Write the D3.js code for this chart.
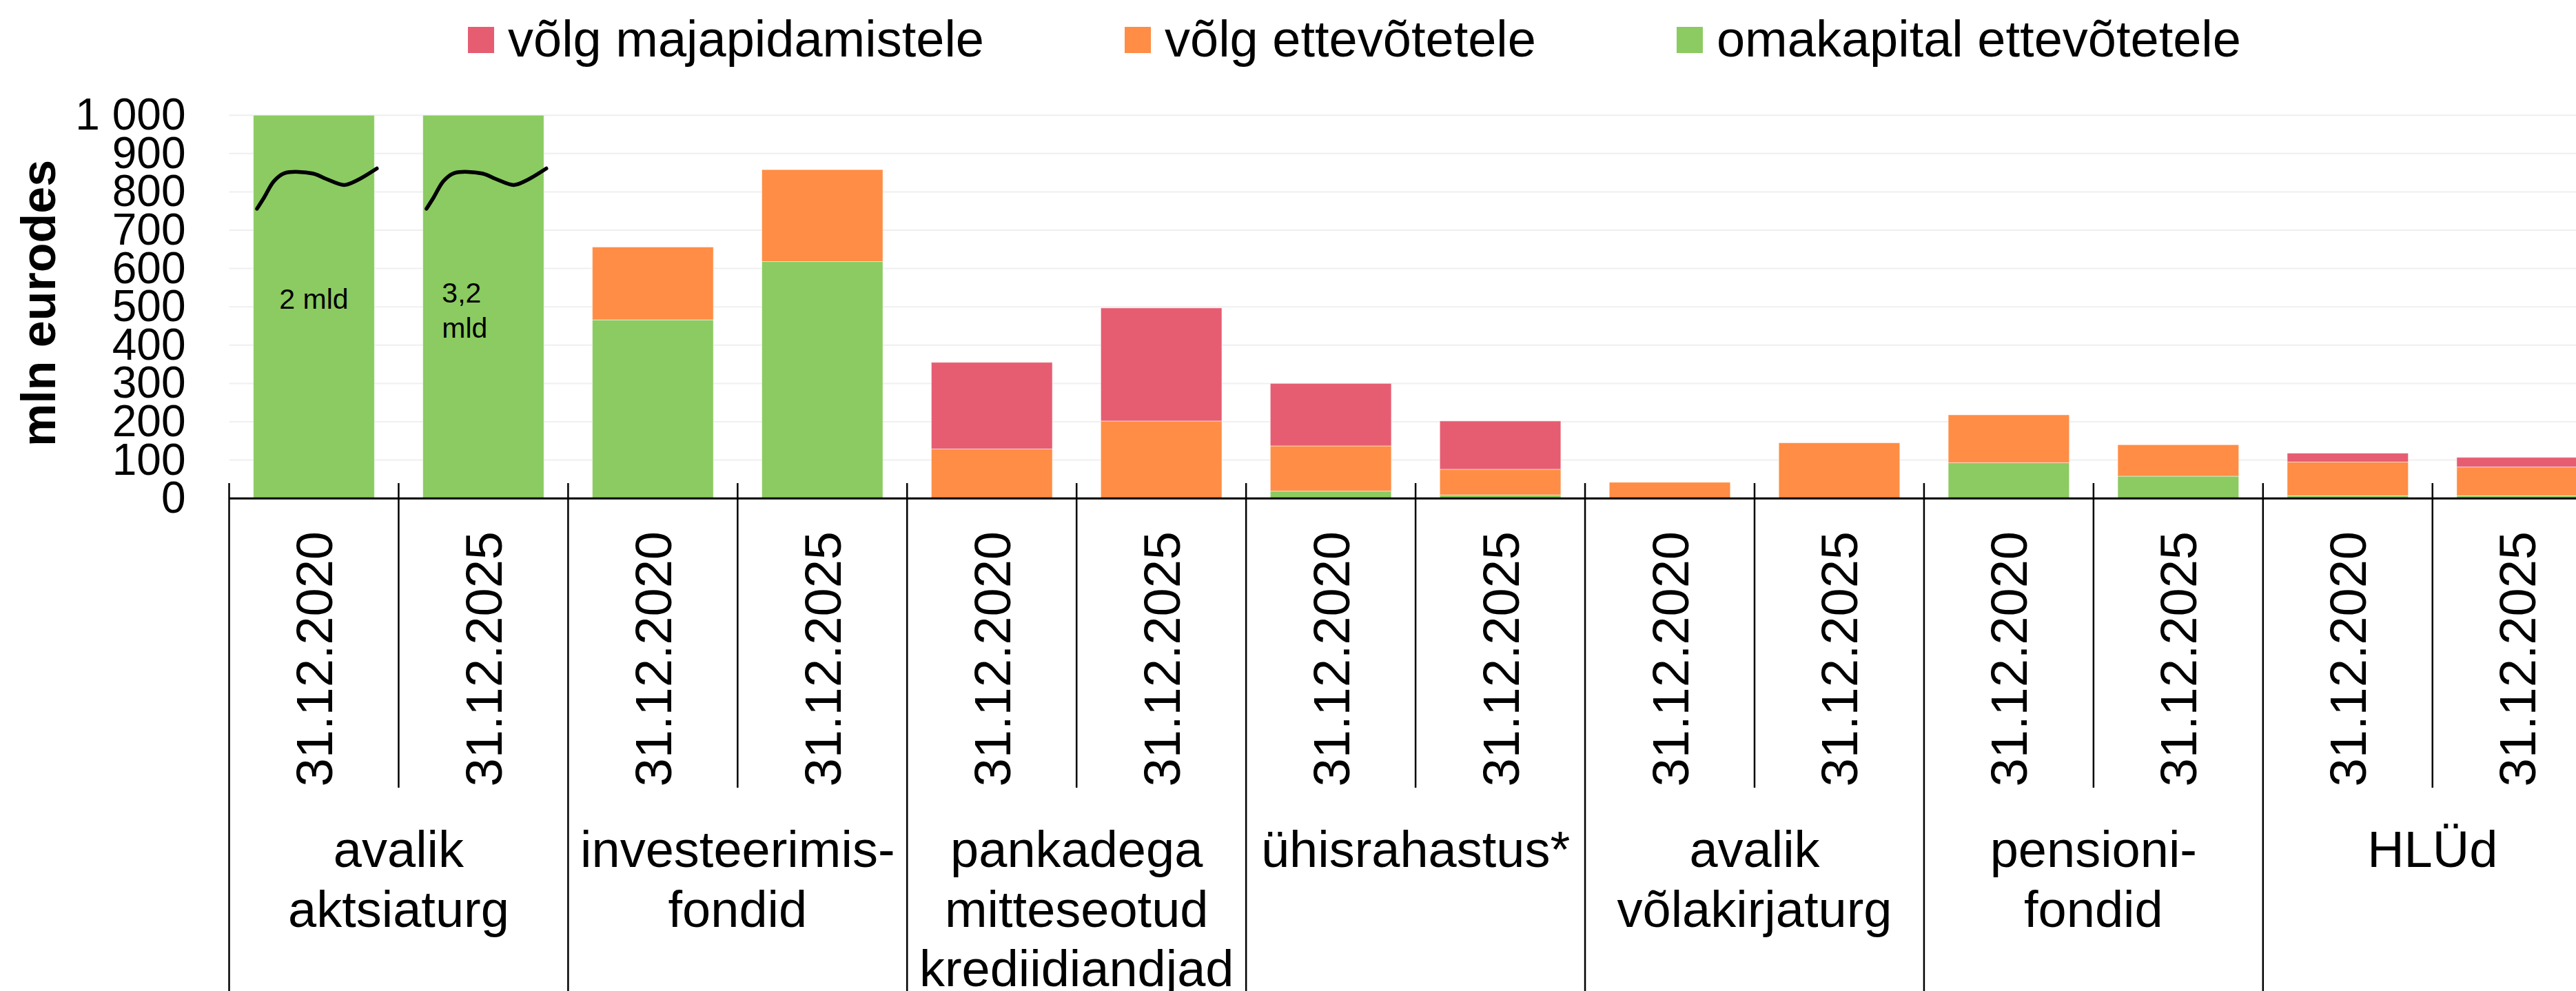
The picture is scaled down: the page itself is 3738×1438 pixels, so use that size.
<!DOCTYPE html>
<html>
<head>
<meta charset="utf-8">
<script src="https://cdn.jsdelivr.net/npm/d3@7"></script>
<style>
  body { margin: 0; background: #fff; }
  svg { display: block; font-family: "Liberation Sans", Arial, sans-serif; }
</style>
</head>
<body>
<svg id="chartSvg" width="3738" height="1438"></svg>
<script>
// data (mln eurodes)
const groupLabels = [
  ["avalik", "aktsiaturg"],
  ["investeerimis-", "fondid"],
  ["pankadega", "mitteseotud", "krediidiandjad"],
  ["ühisrahastus*"],
  ["avalik", "võlakirjaturg"],
  ["pensioni-", "fondid"],
  ["HLÜd"]
];
const dates = ["31.12.2020", "31.12.2025"];

const omakapital      = [2000, 3200, 466, 618,   0,   0,  19,   9,  0,   0,  93, 58,  7,  7];
const volgEttevotetele = [   0,    0, 190, 240, 129, 202, 118,  67, 42, 145, 125, 82, 88, 75];
const volgMajapid     = [   0,    0,   0,   0, 226, 295, 163, 126,  0,   0,   0,  0, 23, 25];

const seriesNames = ["võlg majapidamistele", "võlg ettevõtetele", "omakapital ettevõtetele"];
const yTicks = [0, 100, 200, 300, 400, 500, 600, 700, 800, 900, 1000];

// labels for the cut-off bars
const bigLabels = [["2 mld"], ["3,2", "mld"]];

const colors = {
  majapidamistele: "#e65d72",
  ettevotetele: "#ff8d45",
  omakapital: "#8bcb61"
};

function drawChart() {
  const svg = d3.select("#chartSvg");
  const width = 3738, height = 1438;
  const left = 332.5, right = 3775.7;
  const yTop = 167.2, yBase = 723.2;

  const rows = omakapital.map((d, i) => ({
    i: i,
    omakapital: d,
    ettevotetele: volgEttevotetele[i],
    majapidamistele: volgMajapid[i]
  }));

  const xScale = d3.scaleBand()
    .domain(d3.range(rows.length))
    .range([left, right])
    .paddingInner(0.286)
    .paddingOuter(0.143);

  const yScale = d3.scaleLinear()
    .domain([0, 1000])
    .range([yBase, yTop])
    .clamp(true);

  // gridlines
  svg.append("g")
    .selectAll("line")
    .data(yTicks.filter(d => d > 0))
    .enter()
    .append("line")
    .attr("x1", left)
    .attr("x2", width)
    .attr("y1", d => yScale(d))
    .attr("y2", d => yScale(d))
    .style("stroke", "#efefef")
    .style("stroke-width", 2);

  // y axis labels
  const yAxis = svg.append("g")
    .attr("transform", `translate(${left}, 0)`)
    .call(d3.axisLeft(yScale)
      .tickValues(yTicks)
      .tickSize(0)
      .tickPadding(63)
      .tickFormat(d => d3.format(",")(d).replace(",", " ")));
  yAxis.select(".domain").remove();
  yAxis.selectAll("text")
    .attr("font-family", "Liberation Sans, Arial, sans-serif")
    .attr("font-size", 64)
    .attr("fill", "#000");

  // y title
  svg.append("text")
    .attr("transform", `translate(80, 440) rotate(-90)`)
    .attr("text-anchor", "middle")
    .attr("font-size", 70)
    .attr("font-weight", "bold")
    .text("mln eurodes");

  // stacked bars
  const stack = d3.stack().keys(["omakapital", "ettevotetele", "majapidamistele"]);
  const stacked = stack(rows);

  svg.append("g")
    .selectAll("g")
    .data(stacked)
    .enter()
    .append("g")
    .style("fill", d => colors[d.key])
    .selectAll("rect")
    .data(d => d.filter(p => p[1] > p[0]))
    .enter()
    .append("rect")
    .attr("x", d => xScale(d.data.i))
    .attr("width", xScale.bandwidth())
    .attr("y", d => yScale(d[1]))
    .attr("height", d => yScale(d[0]) - yScale(d[1]))
    .style("stroke", "#fff")
    .style("stroke-width", 1)
    .style("stroke-opacity", 0.5);

  // break marks on the two cut bars
  const wave = [[0.03, 756], [0.09, 786], [0.17, 828], [0.26, 849], [0.49, 848],
                [0.6, 834], [0.75, 818], [0.85, 829], [1.02, 861]];
  const bw = xScale.bandwidth();
  [0, 1].forEach(i => {
    const line = d3.line()
      .x(p => xScale(i) + p[0] * bw)
      .y(p => yScale(p[1]))
      .curve(d3.curveCatmullRom);
    svg.append("path")
      .attr("d", line(wave))
      .style("fill", "none")
      .style("stroke", "#000")
      .style("stroke-width", 5.5)
      .style("stroke-linecap", "round");
  });

  // labels on the cut bars
  svg.append("text")
    .attr("x", xScale(0) + bw / 2)
    .attr("y", yScale(495))
    .attr("text-anchor", "middle")
    .attr("font-size", 41)
    .text(bigLabels[0][0]);
  const t2 = svg.append("text")
    .attr("x", xScale(1) + 0.158 * bw)
    .attr("y", yScale(511))
    .attr("font-size", 41);
  bigLabels[1].forEach((s, k) => {
    t2.append("tspan")
      .attr("x", xScale(1) + 0.158 * bw)
      .attr("dy", k === 0 ? 0 : 51)
      .text(s);
  });

  // x axis line and ticks
  svg.append("line")
    .attr("x1", left)
    .attr("x2", width)
    .attr("y1", yBase)
    .attr("y2", yBase)
    .style("stroke", "#000")
    .style("stroke-width", 3);

  const bounds = d3.range(rows.length + 1).map(k => left + k * xScale.step());
  svg.append("g")
    .selectAll("line")
    .data(bounds)
    .enter()
    .append("line")
    .attr("x1", d => d)
    .attr("x2", d => d)
    .attr("y1", 701)
    .attr("y2", (d, k) => k % 2 === 0 ? height : 1143)
    .style("stroke", "#000")
    .style("stroke-width", 2.5);

  // date labels
  const fs = 74;
  svg.append("g")
    .selectAll("text")
    .data(rows)
    .enter()
    .append("text")
    .attr("transform", d => `translate(${xScale(d.i) + bw / 2 + 0.358 * fs}, 771) rotate(-90)`)
    .attr("text-anchor", "end")
    .attr("font-size", fs)
    .text(d => dates[d.i % 2]);

  // group labels
  groupLabels.forEach((lines, g) => {
    const cx = (bounds[g * 2] + bounds[g * 2 + 2]) / 2;
    const t = svg.append("text")
      .attr("text-anchor", "middle")
      .attr("font-size", fs);
    lines.forEach((s, k) => {
      t.append("tspan")
        .attr("x", cx)
        .attr("y", 1258 + k * 86.5)
        .text(s);
    });
  });

  // legend
  const legendKeys = ["majapidamistele", "ettevotetele", "omakapital"];
  let lx = 679;
  seriesNames.forEach((name, k) => {
    svg.append("rect")
      .attr("x", lx)
      .attr("y", 39)
      .attr("width", 38)
      .attr("height", 38)
      .style("fill", colors[legendKeys[k]]);
    const txt = svg.append("text")
      .attr("x", lx + 58)
      .attr("y", 82)
      .attr("font-size", fs)
      .text(name);
    lx += 58 + txt.node().getComputedTextLength() + 204;
  });
}

drawChart();
</script>
</body>
</html>
